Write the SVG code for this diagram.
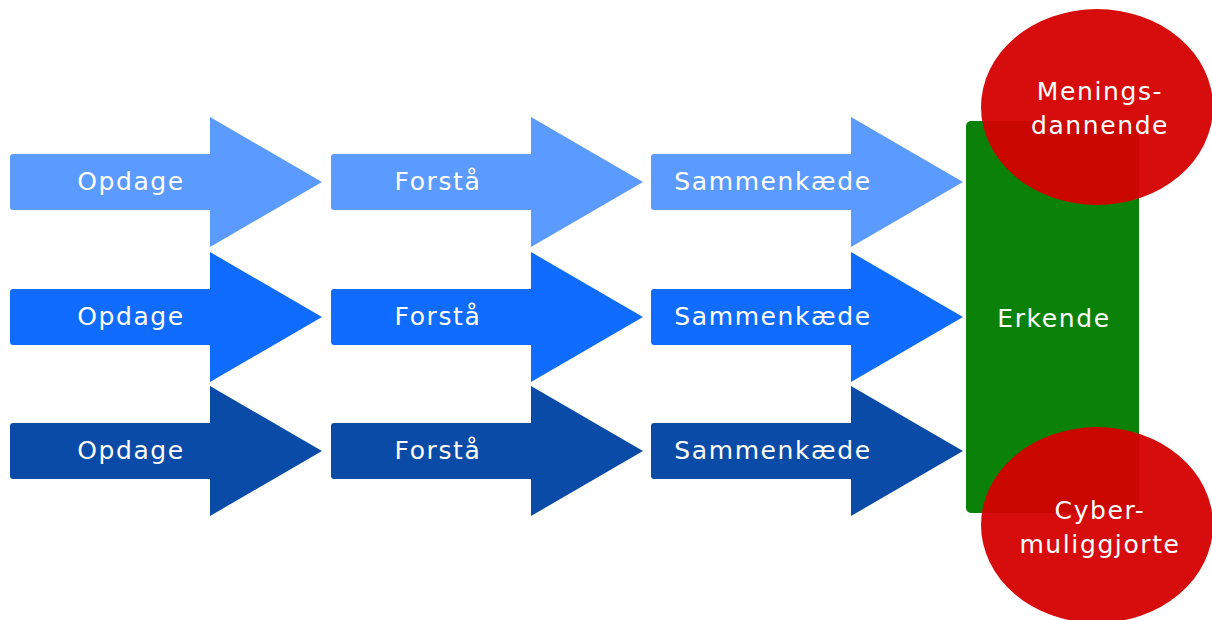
<svg xmlns="http://www.w3.org/2000/svg" width="1212" height="620" viewBox="0 0 1212 620">
  <defs>
    <!-- block arrow: body 200 wide, head 112 long, centred on y=0 -->
    <path id="arrow" d="M3,-28 H200 V-65 L312,0 L200,65 V28 H3 Q0,28 0,25 V-25 Q0,-28 3,-28 Z"/>
  </defs>
  <style>
    .lbl { font-family: "DejaVu Sans", Verdana, sans-serif; font-size: 25px; fill: #ffffff; letter-spacing: 1.6px; text-anchor: middle; }
    .r1 { fill: #5b9bff; }
    .r2 { fill: #0f6cff; }
    .r3 { fill: #0b4ba8; }
    .goal { fill: #0a820a; }
    .blob { fill: #d50000; fill-opacity: 0.95; }
  </style>
  <rect width="1212" height="620" fill="#ffffff"/>

  <g id="row1">
    <g id="opdage1"><use href="#arrow" class="r1" x="10" y="182"/><text class="lbl" x="131" y="190">Opdage</text></g>
    <g id="forstaa1"><use href="#arrow" class="r1" x="331" y="182"/><text class="lbl" x="438" y="190">Forstå</text></g>
    <g id="sammenkaede1"><use href="#arrow" class="r1" x="651" y="182"/><text class="lbl" x="773" y="190">Sammenkæde</text></g>
  </g>
  <g id="row2">
    <g id="opdage2"><use href="#arrow" class="r2" x="10" y="317"/><text class="lbl" x="131" y="325">Opdage</text></g>
    <g id="forstaa2"><use href="#arrow" class="r2" x="331" y="317"/><text class="lbl" x="438" y="325">Forstå</text></g>
    <g id="sammenkaede2"><use href="#arrow" class="r2" x="651" y="317"/><text class="lbl" x="773" y="325">Sammenkæde</text></g>
  </g>
  <g id="row3">
    <g id="opdage3"><use href="#arrow" class="r3" x="10" y="451"/><text class="lbl" x="131" y="459">Opdage</text></g>
    <g id="forstaa3"><use href="#arrow" class="r3" x="331" y="451"/><text class="lbl" x="438" y="459">Forstå</text></g>
    <g id="sammenkaede3"><use href="#arrow" class="r3" x="651" y="451"/><text class="lbl" x="773" y="459">Sammenkæde</text></g>
  </g>

  <g id="erkende">
    <rect class="goal" x="966" y="121" width="173" height="392" rx="5"/>
    <text class="lbl" x="1054" y="327">Erkende</text>
  </g>
  <g id="meningsdannende">
    <ellipse class="blob" cx="1097" cy="107" rx="116" ry="98"/>
    <text class="lbl" x="1100" y="100">Menings-</text>
    <text class="lbl" x="1100" y="134">dannende</text>
  </g>
  <g id="cybermuliggjorte">
    <ellipse class="blob" cx="1097" cy="525" rx="116" ry="98"/>
    <text class="lbl" x="1100" y="519">Cyber-</text>
    <text class="lbl" x="1100" y="553">muliggjorte</text>
  </g>
  <g id="connectors"/>
</svg>
